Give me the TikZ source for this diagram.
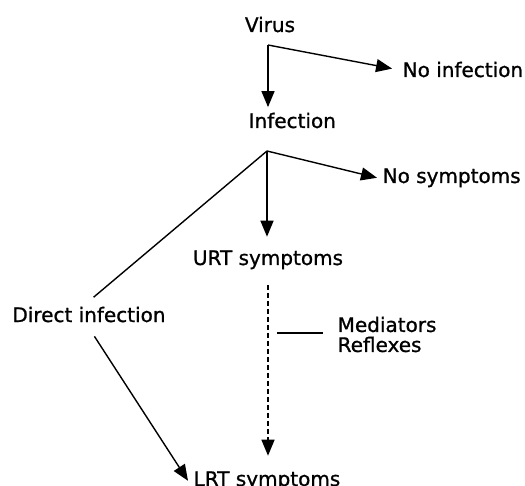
\documentclass[tikz,border=0pt]{standalone}
\usepackage{fontspec}
\setmainfont[FakeBold=1]{DejaVu Sans}
\usetikzlibrary{arrows.meta}
\tikzset{
	lbl/.style={inner sep=2.5pt, font=\fontsize{10}{10}\selectfont},
	arr/.style={-{Triangle[length=8pt,width=6.5pt]}},
	dash line/.style={dash pattern=on 2.5pt off 1.5pt}
}

\begin{document}
\begin{tikzpicture}[x=0.5pt, y=-0.5pt, line width=0.7pt]
		%%%%% START %%%%%
		\useasboundingbox (0, 0) rectangle (525, 486);
		
		\node[lbl, anchor=base] (virus) at (270, 32) {Virus};
		\node[lbl, anchor=base west] (noinf) at (397, 77) {No infection};
		\node[lbl, anchor=base west] (infection) at (243, 128) {Infection};
		\node[lbl, anchor=base west] (nosym) at (377, 183) {No symptoms};
		\node[lbl, anchor=base] (urt) at (268, 265) {URT symptoms};
		\node[lbl, anchor=base] (direct) at (89, 322) {Direct infection};
		\node[lbl, anchor=west, align=left] (med) at (332, 334.5) {Mediators\\Reflexes};
		\node[lbl, anchor=base west] (lrt) at (188, 486) {LRT symptoms};
		
		\coordinate (vsplit) at (268, 45);
		\coordinate (isplit) at (267, 151);
		\coordinate (medtick) at (277, 333);
		
		\draw[arr] (vsplit) -- (vsplit |- infection.north);
		\draw[arr, shorten >=2.5pt] (vsplit) -- (noinf.west);
		
		\draw[arr, shorten >=4pt] (isplit) -- (isplit |- urt.north);
		\draw[arr] (isplit) -- (nosym.west);
		\draw[shorten >=3pt] (isplit) -- (direct.north);
		
		\draw[arr, shorten <=5pt] (direct.south) -- (lrt.west);
		\draw[arr, dash line, shorten <=5pt, shorten >=5pt] (urt.south) -- (lrt.north -| urt.south);
		\draw[shorten >=4.5pt] (medtick) -- (medtick -| med.west);
		
		%%%%% END %%%%%
	\end{tikzpicture}
\end{document}
